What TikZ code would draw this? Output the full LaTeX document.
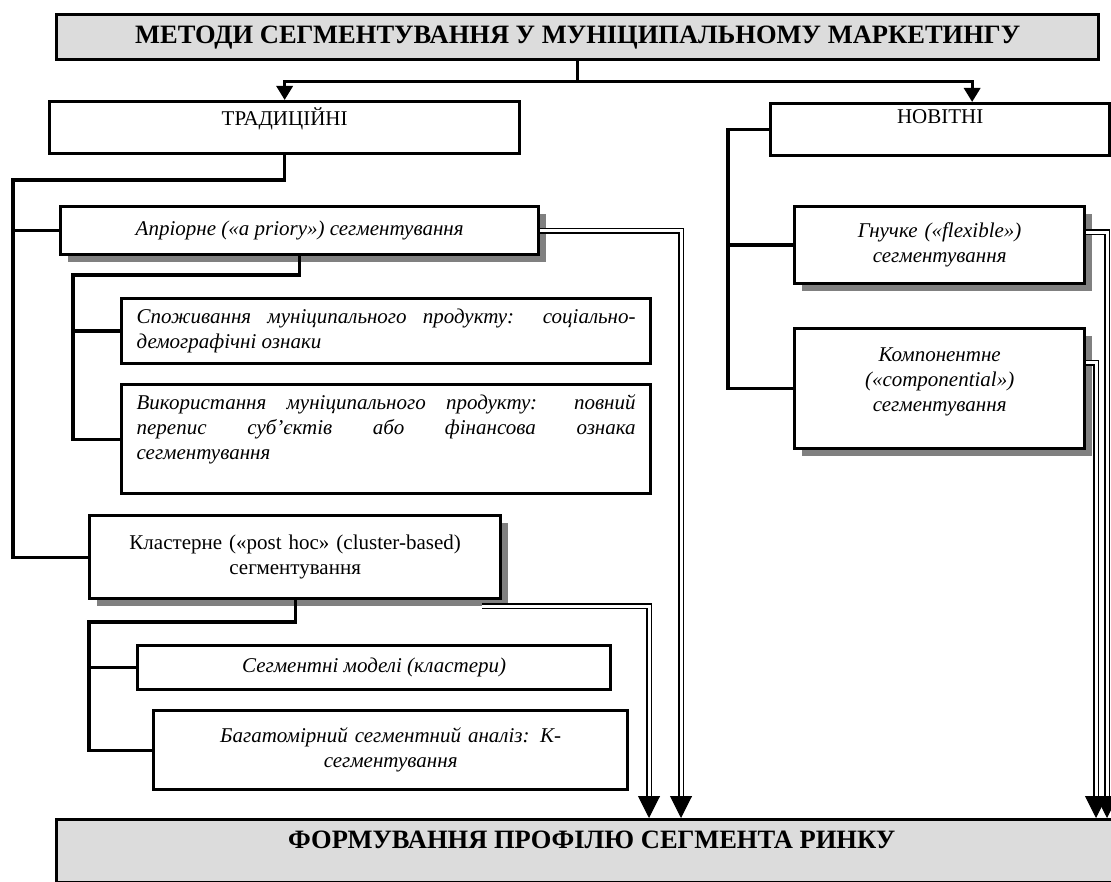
\documentclass[tikz,border=0pt]{standalone}
\usepackage{fontspec}
\setmainfont{Liberation Serif}
\usetikzlibrary{arrows.meta,calc,shadows}
\definecolor{PanelGray}{RGB}{220,220,220}
\definecolor{ShadeGray}{RGB}{128,128,128}

\begin{document}
\begin{tikzpicture}[x=1pt,y=-1pt,
  box/.style={rectangle,draw,line width=3.3pt,anchor=north west,inner xsep=15pt,inner ysep=0pt,font=\fontsize{21}{25}\selectfont},
  it/.style={font=\fontsize{21}{25}\selectfont\itshape},
  head/.style={font=\fontsize{26.5}{30}\selectfont\bfseries},
  shadowed/.style={fill=white,drop shadow={shadow xshift=7pt,shadow yshift=-7pt,fill=ShadeGray,opacity=1}},
  conn/.style={line width=3.3pt},
  arr/.style={line width=3.3pt,-{Triangle[width=16pt,length=14pt]}},
  dbl/.style={double,double distance=3pt,line width=1.6pt,shorten >=12pt},
  arrhead/.style={line width=1pt,-{Triangle[width=22pt,length=22pt]}}
]
  \useasboundingbox (0,0) rectangle (1111,882);
  \clip (0,0) rectangle (1111,882);

  \node[box,head,fill=PanelGray,minimum width=1042pt,minimum height=45pt] (title) at (55,13) {МЕТОДИ СЕГМЕНТУВАННЯ У МУНІЦИПАЛЬНОМУ МАРКЕТИНГУ};
  \node[box,inner xsep=0pt,inner ysep=6pt] (trad) at (48,100) {\parbox[c][40pt][t]{470pt}{\centering ТРАДИЦІЙНІ}};
  \node[box,inner xsep=0pt,inner ysep=6pt] (nov) at (769,102) {\parbox[c][40pt][t]{339pt}{\centering НОВІТНІ}};

  % traditional branch
  \node[box,it,shadowed,minimum width=478pt,minimum height=48pt] (apr) at (59,205) {Апріорне («a priory») сегментування};
  \node[box,it,minimum width=529pt,minimum height=65pt,text width=499pt,align=justify] (spo) at (120,297) {Споживання муніципального продукту: соціально-\linebreak демографічні ознаки};
  \node[box,it,inner ysep=10pt] (vyk) at (120,383) {\parbox[c][89pt][t]{499pt}{Використання муніципального продукту: повний\linebreak перепис суб’єктів або фінансова ознака\linebreak сегментування}};
  \node[box,shadowed,minimum width=411pt,minimum height=83pt,text width=381pt,align=center] (clu) at (88,514) {Кластерне («post hoc» (cluster-based)\\сегментування};
  \node[box,it,minimum width=473pt,minimum height=44pt] (seg) at (136,644) {Сегментні моделі (кластери)};
  \node[box,it,minimum width=474pt,minimum height=79pt,text width=444pt,align=center] (bag) at (152,709) {Багатомірний сегментний аналіз: К-\\сегментування};

  % new branch
  \node[box,it,shadowed,minimum width=290pt,minimum height=77pt,text width=260pt,align=center] (gnu) at (793,205) {Гнучке («flexible»)\\сегментування};
  \node[box,it,shadowed,inner xsep=0pt,inner ysep=19pt] (kom) at (793,327) {\parbox[c][82pt][t]{290pt}{\centering Компонентне\\(«componential»)\\сегментування}};

  \node[box,head,fill=PanelGray,inner xsep=0pt,inner ysep=11pt] (prof) at (55,818) {\parbox[c][41pt][t]{1070pt}{\centering ФОРМУВАННЯ ПРОФІЛЮ СЕГМЕНТА РИНКУ}};

  % tree lines
  \draw[conn] (title.south) -- ++(0,20) coordinate (t0);
  \draw[arr] (t0) -| (trad.north);
  \draw[arr] (t0) -| ([xshift=32pt]nov.north);

  \coordinate (tv) at (13,180);
  \draw[conn] (trad.south) |- (tv) |- (clu.west);
  \draw[conn] (apr.west) -- (apr.west -| tv);
  \coordinate (av) at (73,275);
  \draw[conn] (apr.south) |- (av) |- (vyk.west);
  \draw[conn] (spo.west) -- (spo.west -| av);
  \coordinate (cv) at (89,622);
  \draw[conn] (clu.south) |- (cv) |- (bag.west);
  \draw[conn] (seg.west) -- (seg.west -| cv);
  \coordinate (nv) at (728,0);
  \draw[conn] (nov.west) -| (nv |- kom.west) -- (kom.west);
  \draw[conn] (gnu.west) -- (gnu.west -| nv);

  % double arrows to the profile
  \coordinate (d1) at (649,0);
  \coordinate (d2) at (681,0);
  \coordinate (d3) at (1096,0);
  \coordinate (d4) at (1107,0);
  \draw[dbl] (apr.east) -| (d2 |- prof.north);
  \draw[dbl] ([xshift=-20pt,yshift=-6pt]clu.south east) -| (d1 |- prof.north);
  \draw[dbl] ([yshift=13pt]gnu.east) -| (d4 |- prof.north);
  \draw[dbl] ([yshift=26pt]kom.east) -| (d3 |- prof.north);
  \foreach \d in {d1,d2,d3,d4}
    \draw[arrhead] ($(\d |- prof.north)+(0,-22)$) -- (\d |- prof.north);
\end{tikzpicture}
\end{document}
